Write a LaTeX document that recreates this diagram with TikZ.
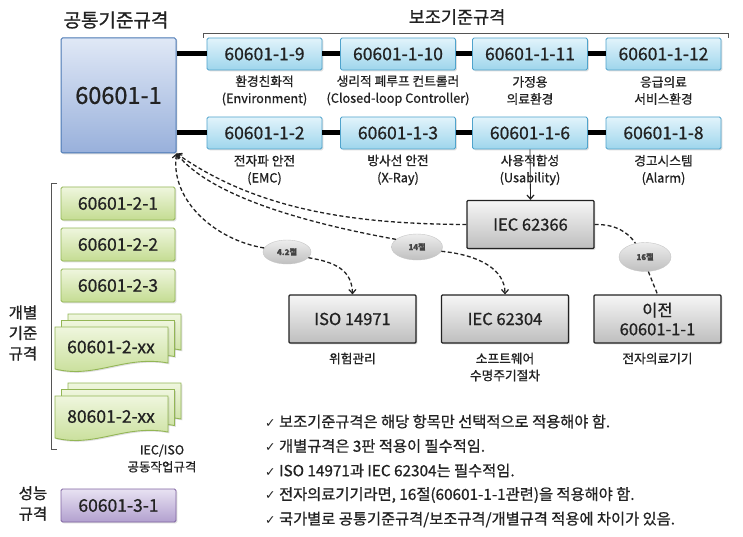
\documentclass[tikz,border=0pt]{standalone}
\usepackage{fontspec}
\setmainfont{Noto Sans CJK KR}[FakeBold=0.8]
\newfontfamily\symf{DejaVu Sans}
\usetikzlibrary{arrows.meta,shadows,backgrounds,shapes.geometric}
\definecolor{bluebd}{HTML}{4FA3CC}
\definecolor{bluetop}{HTML}{E2F4FB}
\definecolor{bluebot}{HTML}{9ED5EC}
\definecolor{mainbd}{HTML}{4A78B4}
\definecolor{maintop}{HTML}{E0E8F6}
\definecolor{mainbot}{HTML}{98B0DB}
\definecolor{greenbd}{HTML}{93B655}
\definecolor{greentop}{HTML}{EFF6DE}
\definecolor{greenbot}{HTML}{C4DC92}
\definecolor{purbd}{HTML}{8064A2}
\definecolor{purtop}{HTML}{E8E2F2}
\definecolor{purbot}{HTML}{B2A0CF}
\definecolor{graytop}{HTML}{F6F6F6}
\definecolor{graybot}{HTML}{BEBEBE}
\definecolor{ink}{HTML}{222222}
\definecolor{brk}{HTML}{555555}
\tikzset{
  shbox/.style={rectangle, rounded corners=1.5pt, inner sep=0pt,
    drop shadow={shadow xshift=1.3pt, shadow yshift=-1.3pt, opacity=0.25}},
  bluebox/.style={shbox, draw=bluebd, line width=0.9pt, top color=bluetop, bottom color=bluebot,
    minimum width=115pt, minimum height=32pt, font=\fontsize{17.5}{19}\selectfont, text=ink},
  mainbox/.style={shbox, draw=mainbd, line width=1pt, top color=maintop, bottom color=mainbot,
    minimum width=115pt, minimum height=115pt, font=\fontsize{23.5}{28}\selectfont, text=ink},
  greenbox/.style={shbox, draw=greenbd, line width=0.9pt, top color=greentop, bottom color=greenbot,
    minimum width=114pt, minimum height=33pt, font=\fontsize{17.5}{19}\selectfont, text=ink},
  sheet/.style={draw=greenbd, line width=0.9pt, top color=greentop, bottom color=greenbot,
    drop shadow={shadow xshift=1.3pt, shadow yshift=-1.3pt, opacity=0.25}},
  sheettext/.style={font=\fontsize{17.5}{19}\selectfont, text=ink, inner sep=0pt},
  purbox/.style={shbox, draw=purbd, line width=0.9pt, top color=purtop, bottom color=purbot,
    minimum width=115pt, minimum height=33pt, font=\fontsize{17.5}{19}\selectfont, text=ink},
  graybox/.style={shbox, rounded corners=1pt, draw=ink, line width=1.2pt, top color=graytop, bottom color=graybot,
    minimum width=127pt, minimum height=48pt, font=\fontsize{16.5}{19}\selectfont, text=ink, align=center},
  tag/.style={ellipse, inner sep=0pt, draw=gray!45, line width=0.4pt,
    top color=gray!14, bottom color=gray!50,
    font=\bfseries\fontsize{8}{9}\selectfont, text=ink!85},
  sublabel/.style={align=center, font=\fontsize{12.7}{17}\selectfont, text=ink, inner sep=0pt},
  title/.style={font=\fontsize{19}{21}\selectfont, text=ink, inner sep=0pt},
  sidetitle/.style={align=center, font=\fontsize{15.5}{20.5}\selectfont, text=ink, inner sep=0pt},
  note/.style={anchor=west, font=\fontsize{15.3}{17}\selectfont, text=ink, inner sep=0pt},
  conn/.style={line width=5pt, black},
  spine/.style={line width=4.5pt, black},
  bracket/.style={line width=0.8pt, brk},
  dcurve/.style={line width=1.3pt, ink, dash pattern=on 4pt off 2.5pt},
  tip/.style={-{Straight Barb[length=4pt,width=7pt,line width=1.2pt]}},
}
\newcommand{\drawsheet}[2]{%
  \path[sheet] (#1,#2) -- (#1+113,#2) -- (#1+113,#2+36)
    .. controls (#1+70,#2+28) and (#1+40,#2+52) .. (#1,#2+42) -- cycle;}
\newcommand{\chk}{{\symf\fontsize{12.5}{14}\selectfont ✓}}
\begin{document}
\begin{tikzpicture}[x=1pt,y=-1pt]
\useasboundingbox[fill=white] (0,0) rectangle (743,537);

% titles
\node[title] (t-common) at (116,20) {공통기준규격};
\node[title, font=\fontsize{17.5}{20}\selectfont] (t-sub) at (457,17) {보조기준규격};
\draw[bracket] (203,38) -- (203,33) -- (728,33) -- (728,38);

% main box
\node[mainbox] (main) at (118.5,95.5) {60601-1};

% collateral boxes
\node[bluebox] (b9)  at (264.5,54) {60601-1-9};
\node[bluebox] (b10) at (398,54)   {60601-1-10};
\node[bluebox] (b11) at (530,54)   {60601-1-11};
\node[bluebox] (b12) at (663.5,54) {60601-1-12};
\node[bluebox] (b2)  at (264.5,133) {60601-1-2};
\node[bluebox] (b3)  at (398,133)   {60601-1-3};
\node[bluebox] (b6)  at (530,133)   {60601-1-6};
\node[bluebox] (b8)  at (663.5,133) {60601-1-8};

\draw[conn] (b9.west -| main.east) -- (b9.west);
\draw[conn] (b9.east) -- (b10.west);
\draw[conn] (b10.east) -- (b11.west);
\draw[conn] (b11.east) -- (b12.west);
\draw[conn] (b2.west -| main.east) -- (b2.west);
\draw[conn] (b2.east) -- (b3.west);
\draw[conn] (b3.east) -- (b6.west);
\draw[conn] (b6.east) -- (b8.west);

\node[sublabel] (l9)  at (264.5,90.5) {환경친화적\\(Environment)};
\node[sublabel] (l10) at (398,90.5)   {생리적 폐루프 컨트롤러\\(Closed-loop Controller)};
\node[sublabel] (l11) at (530,90.5)   {가정용\\의료환경};
\node[sublabel] (l12) at (663.5,90.5) {응급의료\\서비스환경};
\node[sublabel] (l2)  at (264.5,170) {전자파 안전\\(EMC)};
\node[sublabel] (l3)  at (398,170)   {방사선 안전\\(X-Ray)};
\node[sublabel] (l6)  at (530,170)   {사용적합성\\(Usability)};
\node[sublabel] (l8)  at (663.5,170) {경고시스템\\(Alarm)};

% particular standards column
\node[purbox] (perf) at (118.5,505.5) {60601-3-1};
\begin{scope}[on background layer]
  \draw[spine] (main.south -| 118,0) -- (perf.north -| 118,0);
\end{scope}
\node[greenbox] (p1) at (118,203.5) {60601-2-1};
\node[greenbox] (p2) at (118,244.5) {60601-2-2};
\node[greenbox] (p3) at (118,285.5) {60601-2-3};
\drawsheet{68}{314}
\drawsheet{61.5}{320.5}
\drawsheet{55}{327}
\node[sheettext] (pxx) at (111,347) {60601-2-xx};
\drawsheet{68}{383}
\drawsheet{61.5}{389.5}
\drawsheet{55}{396}
\node[sheettext] (pyy) at (111,416.5) {80601-2-xx};

\draw[bracket] (57,183) -- (51,183) -- (51,449) -- (57,449);
\node[sidetitle] (t-part) at (23,333) {개별\\기준\\규격};
\node[sidetitle] (t-perf) at (33,503.5) {성능\\규격};
\node[sublabel, font=\fontsize{12.5}{17}\selectfont] (l-joint) at (162,458.5) {IEC/ISO\\공동작업규격};

% related standards
\node[graybox] (iec66) at (530.5,224.5) {IEC 62366};
\node[graybox] (iso)   at (352.5,319) {ISO 14971};
\node[graybox] (iec04) at (505,319) {IEC 62304};
\node[graybox] (ijeon) at (657.5,319) {이전\\60601-1-1};
\node[sublabel] (l-iso) at (352.5,358.5) {위험관리};
\node[sublabel] (l-iec04) at (505,367) {소프트웨어\\수명주기절차};
\node[sublabel] (l-ijeon) at (657.5,358.5) {전자의료기기};

\node[tag, minimum width=48pt, minimum height=24pt] (c42) at (287,252) {4.2절};
\node[tag, minimum width=51pt, minimum height=26pt] (c14) at (417,247) {14절};
\node[tag, minimum width=52pt, minimum height=29pt] (c16) at (645,257) {16절};

% dashed references
\draw[dcurve, tip] (iec66.west) .. controls (360,224) and (260,212) .. (main.south east);
\draw[dcurve, tip] (c14.160) .. controls (300,222) and (210,195) .. (main.south east);
\draw[dcurve, tip] (c42.170) .. controls (215,240) and (170,200) .. (main.south east);
\draw[dcurve, tip] (c42.-15) .. controls (335,262) and (352,270) .. (iso.north);
\draw[dcurve, tip] (c14.-10) .. controls (480,255) and (505,270) .. (iec04.north);
\draw[dcurve] (iec66.east) .. controls (615,224) and (628,232) .. (c16.125);
\draw[dcurve] (c16.283) -- (ijeon.north);
\draw[line width=0.8pt, ink, tip] (b6.south) -- (iec66.north);

% notes
\node[note] (n1) at (265,421.5) {\chk\ 보조기준규격은 해당 항목만 선택적으로 적용해야 함.};
\node[note] (n2) at (265,446)   {\chk\ 개별규격은 3판 적용이 필수적임.};
\node[note] (n3) at (265,470.5) {\chk\ ISO 14971과 IEC 62304는 필수적임.};
\node[note] (n4) at (265,495)   {\chk\ 전자의료기기라면, 16절(60601-1-1관련)을 적용해야 함.};
\node[note] (n5) at (265,519.5) {\chk\ 국가별로 공통기준규격/보조규격/개별규격 적용에 차이가 있음.};
\end{tikzpicture}
\end{document}
